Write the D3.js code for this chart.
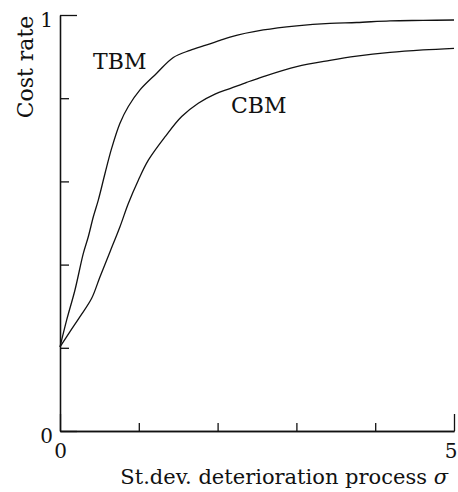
<!DOCTYPE html>
<html>
<head>
<meta charset="utf-8">
<script src="https://cdn.jsdelivr.net/npm/d3@7"></script>
<style>
  html, body { margin: 0; padding: 0; background: #fff; }
  svg { display: block; }
  text { font-family: "DejaVu Serif", "Liberation Serif", serif; fill: #111; }
</style>
</head>
<body>
<svg id="chart" width="458" height="492"></svg>
<script>
// ---- data ----
const sigmaTBM = [0, 0.085, 0.19, 0.296, 0.359, 0.423, 0.486, 0.571, 0.656, 0.761, 0.867, 1.015, 1.227, 1.438, 1.65, 1.862, 2.03, 2.157, 2.58, 3.004, 3.426, 3.765, 4.188, 4.607, 5];
const costTBM  = [0.202, 0.267, 0.339, 0.427, 0.467, 0.515, 0.555, 0.619, 0.68, 0.74, 0.78, 0.82, 0.86, 0.898, 0.915, 0.928, 0.939, 0.947, 0.964, 0.974, 0.98, 0.982, 0.986, 0.987, 0.988];
const sigmaCBM = [0, 0.127, 0.254, 0.402, 0.508, 0.635, 0.761, 0.867, 0.994, 1.121, 1.332, 1.544, 1.755, 1.967, 2.157, 2.369, 2.58, 3.004, 3.426, 3.765, 4.188, 4.607, 5];
const costCBM  = [0.202, 0.239, 0.275, 0.319, 0.371, 0.431, 0.491, 0.547, 0.603, 0.651, 0.707, 0.756, 0.788, 0.81, 0.823, 0.838, 0.852, 0.876, 0.891, 0.901, 0.91, 0.916, 0.92];
const xMajorTicks = [0, 5];
const xMinorTicks = [1, 2, 3, 4];
const yMajorTicks = [0, 1];
const yMinorTicks = [0.2, 0.4, 0.6, 0.8];
const seriesLabels = [
  { name: "TBM", sigma: 0.42, cost: 0.87 },
  { name: "CBM", sigma: 2.17, cost: 0.765 }
];
const xTitle = "St.dev. deterioration process ";
const xTitleSymbol = "σ";
const yTitle = "Cost rate";

// ---- layout ----
const svg = d3.select("#chart");
const x = d3.scaleLinear().domain([0, 5]).range([60, 454]);
const y = d3.scaleLinear().domain([0, 1]).range([431, 15]);

function styleAxis(g) {
  g.select(".domain").attr("stroke", "#111").attr("stroke-width", 1.3);
  g.selectAll(".tick line").attr("stroke", "#111").attr("stroke-width", 1.3);
  g.selectAll(".tick text").attr("font-family", "DejaVu Serif, serif").attr("font-size", 20).attr("fill", "#111");
}

// x axis minor ticks (inward)
svg.append("g").attr("transform", `translate(0,${y(0)})`)
  .call(d3.axisBottom(x).tickValues(xMinorTicks).tickSize(-8).tickSizeOuter(0).tickFormat(""))
  .call(styleAxis);
// x axis major ticks
const xMaj = svg.append("g").attr("transform", `translate(0,${y(0)})`)
  .call(d3.axisBottom(x).tickValues(xMajorTicks).tickSize(-17).tickSizeOuter(0).tickPadding(13).tickFormat(d3.format("d")))
  .call(styleAxis);
// last label kept inside the picture, flush with the right edge as in the reference
xMaj.selectAll(".tick text").filter(d => d === 5).attr("text-anchor", "end").attr("x", 457 - x(5));

// y axis minor ticks
svg.append("g").attr("transform", `translate(${x(0)},0)`)
  .call(d3.axisLeft(y).tickValues(yMinorTicks).tickSize(-9).tickSizeOuter(0).tickFormat(""))
  .call(styleAxis);
// y axis major ticks
const yMaj = svg.append("g").attr("transform", `translate(${x(0)},0)`)
  .call(d3.axisLeft(y).tickValues(yMajorTicks).tickSize(-17).tickSizeOuter(0).tickPadding(7).tickFormat(d3.format("d")))
  .call(styleAxis);
yMaj.selectAll(".tick text").attr("dy", "0.55em");

// curves
const line = d3.line().x(d => x(d[0])).y(d => y(d[1])).curve(d3.curveCatmullRom.alpha(0.5));
const tbm = sigmaTBM.map((s, i) => [s, costTBM[i]]);
const cbm = sigmaCBM.map((s, i) => [s, costCBM[i]]);
[tbm, cbm].forEach(data => {
  svg.append("path").datum(data)
    .attr("d", line)
    .attr("fill", "none")
    .attr("stroke", "#111")
    .attr("stroke-width", 1.3);
});

// series labels
svg.selectAll(".slabel").data(seriesLabels).enter().append("text")
  .attr("class", "slabel")
  .attr("x", d => x(d.sigma))
  .attr("y", d => y(d.cost))
  .attr("font-size", 22)
  .text(d => d.name);

// axis titles
const xt = svg.append("text")
  .attr("x", 448).attr("y", 484)
  .attr("text-anchor", "end")
  .attr("font-size", 21);
xt.append("tspan").text(xTitle);
xt.append("tspan").attr("font-style", "italic").text(xTitleSymbol);

svg.append("text")
  .attr("transform", "translate(33,67) rotate(-90)")
  .attr("text-anchor", "middle")
  .attr("font-size", 22)
  .text(yTitle);
</script>
</body>
</html>
